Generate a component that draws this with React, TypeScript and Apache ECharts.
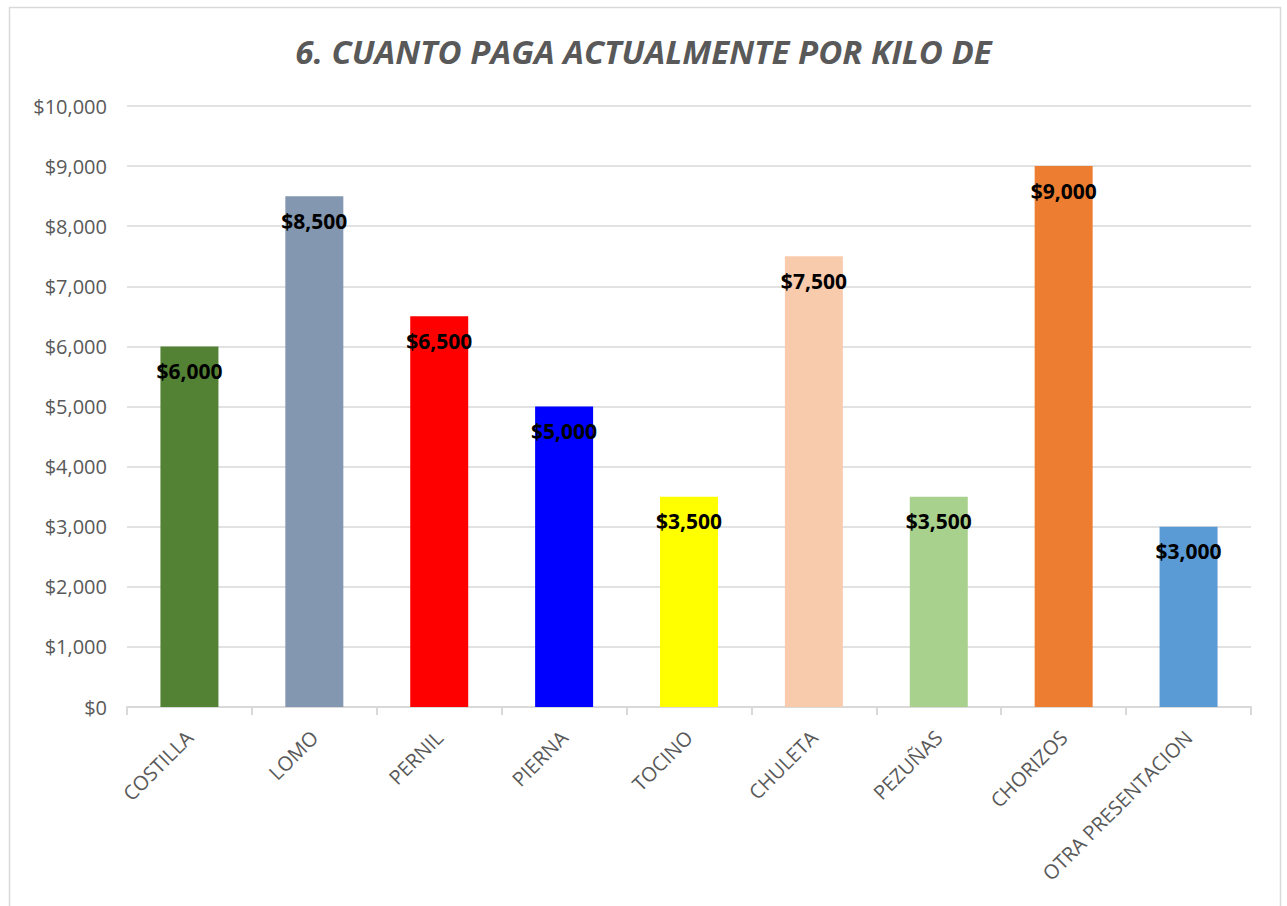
import React, { useEffect, useRef } from "react";
import * as echarts from "echarts";

const title = "6. CUANTO PAGA ACTUALMENTE POR KILO DE";
const categories = ["COSTILLA", "LOMO", "PERNIL", "PIERNA", "TOCINO", "CHULETA", "PEZUÑAS", "CHORIZOS", "OTRA PRESENTACION"];
const values = [6000, 8500, 6500, 5000, 3500, 7500, 3500, 9000, 3000];
const colors = ["#548235", "#8497B0", "#FF0000", "#0000FF", "#FFFF00", "#F8CBAD", "#A9D18E", "#ED7D31", "#5B9BD5"];
const yMin = 0;
const yMax = 10000;
const yInterval = 1000;

const fmt = (v: number) => "$" + v.toLocaleString("en-US");

export default function App() {
  const ref = useRef<HTMLDivElement>(null);
  useEffect(() => {
    if (!ref.current) return;
    const chart = echarts.init(ref.current, null, { renderer: "svg" });
    chart.setOption({
      animation: false,
      backgroundColor: "#FFFFFF",
      title: {
        text: title,
        left: "center",
        top: 30,
        textStyle: {
          fontFamily: "Open Sans",
          fontStyle: "italic",
          fontWeight: "bold",
          fontSize: 33,
          color: "#595959",
        },
      },
      graphic: [
        {
          type: "rect",
          shape: { x: 9.5, y: 7.5, width: 1271, height: 910 },
          style: { fill: "none", stroke: "#D9D9D9", lineWidth: 1.5 },
          silent: true,
        },
      ],
      grid: { left: 127, right: 36, top: 106, bottom: 199, containLabel: false },
      xAxis: {
        type: "category",
        data: categories,
        axisLine: { show: true, lineStyle: { color: "#D9D9D9", width: 2 } },
        axisTick: { show: true, alignWithLabel: false, length: 8, lineStyle: { color: "#D9D9D9", width: 2 } },
        axisLabel: {
          rotate: 45,
          interval: 0,
          margin: 27,
          fontFamily: "Open Sans",
          fontSize: 20,
          color: "#595959",
        },
      },
      yAxis: {
        type: "value",
        min: yMin,
        max: yMax,
        interval: yInterval,
        axisLine: { show: false },
        axisTick: { show: false },
        splitLine: { lineStyle: { color: "#D9D9D9", width: 1.5 } },
        axisLabel: {
          formatter: (v: number) => fmt(v),
          fontFamily: "Open Sans",
          fontSize: 20,
          color: "#595959",
          margin: 20,
        },
      },
      series: [
        {
          type: "bar",
          data: values.map((v, i) => ({ value: v, itemStyle: { color: colors[i] } })),
          barWidth: 58,
          label: {
            show: true,
            position: "insideTop",
            distance: 14,
            formatter: (p: any) => fmt(p.value),
            fontFamily: "Open Sans",
            fontWeight: "bold",
            fontSize: 21,
            color: "#000000",
          },
        },
      ],
    });
    return () => chart.dispose();
  }, []);
  return (
    <div
      ref={ref}
      style={{ position: "fixed", left: 0, top: 0, width: 1287, height: 906 }}
    />
  );
}
